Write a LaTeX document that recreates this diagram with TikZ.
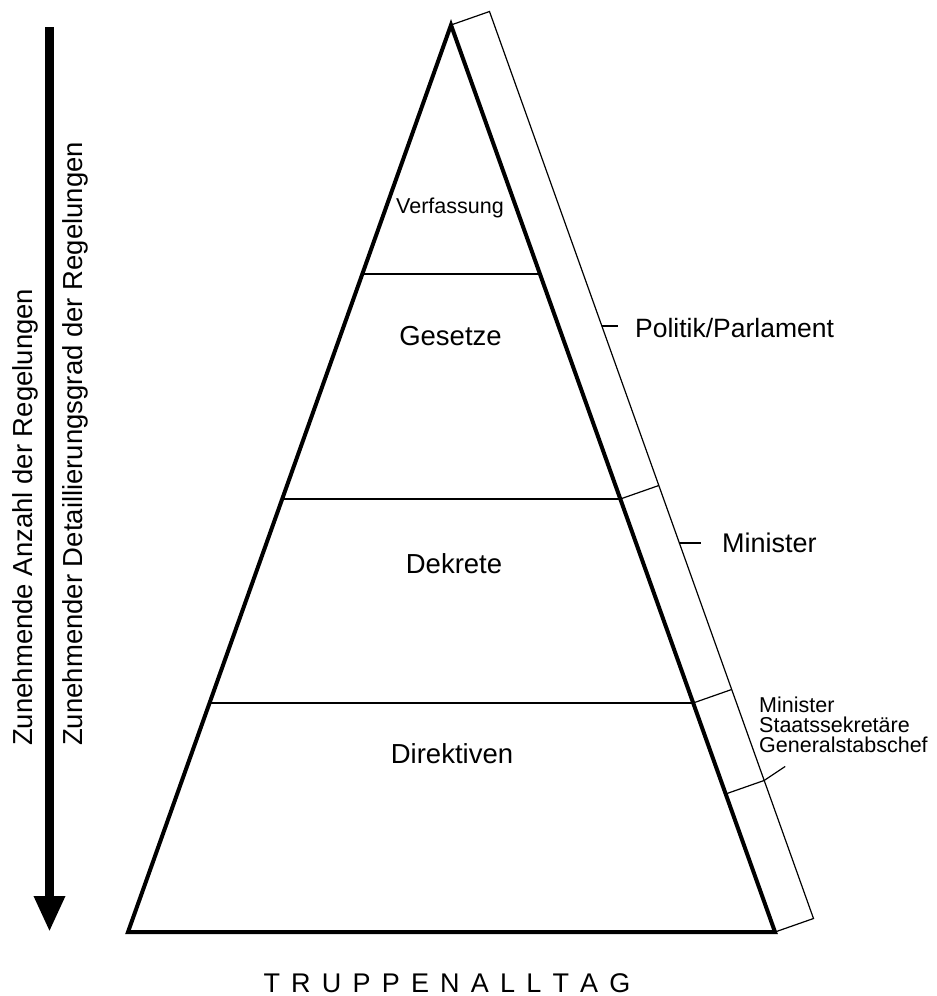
\documentclass[tikz,border=0pt]{standalone}
\usepackage{fontspec}
\setmainfont{Liberation Sans}
\usetikzlibrary{arrows.meta,calc}
\newcommand{\lsp}{\kern11.2pt}
\begin{document}
\begin{tikzpicture}[x=1pt,y=-1pt,
  thickedge/.style={line width=4pt, line join=miter},
  thinline/.style={line width=1.2pt},
  layertext/.style={font=\fontsize{27.5}{30}\selectfont, anchor=base, inner sep=0pt},
  sidetext/.style={font=\fontsize{26.5}{30}\selectfont, anchor=base west, inner sep=0pt},
  smalltext/.style={font=\fontsize{21.5}{20}\selectfont, anchor=north west, align=left, inner sep=0pt},
  sidelabel/.style={font=\fontsize{27.5}{30}\selectfont, anchor=base west, rotate=90, inner sep=0pt},
]
\useasboundingbox (0,0) rectangle (937,996);
% main corners
\coordinate (A) at (451,25);
\coordinate (L) at (128,932);
\coordinate (R) at (775,932);
\coordinate (As) at ($(A)+(38.5,-13.5)$);
\coordinate (Rs) at ($(R)+(38.5,-13.5)$);
% layer line end points
\coordinate (l1) at ($(A)!0.2745!(L)$);
\coordinate (r1) at ($(A)!0.2745!(R)$);
\coordinate (l2) at ($(A)!0.5226!(L)$);
\coordinate (r2) at ($(A)!0.5226!(R)$);
\coordinate (l3) at ($(A)!0.7475!(L)$);
\coordinate (r3) at ($(A)!0.7475!(R)$);
\coordinate (r4) at ($(A)!0.8478!(R)$);
\coordinate (r2s) at ($(r2)+(38.5,-13.5)$);
\coordinate (r3s) at ($(r3)+(38.5,-13.5)$);
\coordinate (r4s) at ($(r4)+(38.5,-13.5)$);
\coordinate (r4e) at ($(r4s)+(21,-14)$);
% ticks on the strip
\coordinate (tk1) at ($(As)!0.3467!(Rs)$);
\coordinate (tk1e) at ($(tk1)+(16,0)$);
\coordinate (tk2) at ($(As)!0.586!(Rs)$);
\coordinate (tk2e) at ($(tk2)+(22,0)$);
% arrow
\coordinate (arrS) at (49.5,27);
\coordinate (arrE) at (49.5,932);

% strip
\draw[thinline] (A) -- (As) -- (Rs) -- (R);
\draw[thinline] (r2) -- (r2s);
\draw[thinline] (r3) -- (r3s);
\draw[thinline] (r4) -- (r4s) -- (r4e);
\draw[thinline] (tk1) -- (tk1e);
\draw[thinline] (tk2) -- (tk2e);

% layers
\draw[thinline] (l1) -- (r1);
\draw[thinline] (l2) -- (r2);
\draw[thinline] (l3) -- (r3);

% pyramid
\draw[thickedge] (A) -- (L) -- (R) -- cycle;

% arrow
\draw[line width=9pt, -{Triangle[width=29pt,length=36pt]}] (arrS) -- (arrE);

% texts
\node[layertext, font=\fontsize{21.5}{24}\selectfont] (verf) at (450,213) {Verfassung};
\node[layertext] (ges) at (450.5,345) {Gesetze};
\node[layertext] (dek) at (454,573) {Dekrete};
\node[layertext] (dir) at (452,763) {Direktiven};

\node[sidetext] (pol) at (635,337) {Politik/Parlament};
\node[sidetext, font=\fontsize{27}{30}\selectfont] (min) at (722,552) {Minister};
\node[smalltext] (stab) at (759,697) {Minister\\Staatssekretäre\\Generalstabschef};

\node[sidelabel] (lab1) at (32,746) {Zunehmende Anzahl der Regelungen};
\node[sidelabel] (lab2) at (82,746) {Zunehmender Detaillierungsgrad der Regelungen};

\node[font=\fontsize{27}{30}\selectfont, anchor=base, inner sep=0pt] (trup) at (447,992)
  {T\lsp R\lsp U\lsp P\lsp P\lsp E\lsp N\lsp A\lsp L\lsp L\lsp T\lsp A\lsp G};
\end{tikzpicture}
\end{document}
